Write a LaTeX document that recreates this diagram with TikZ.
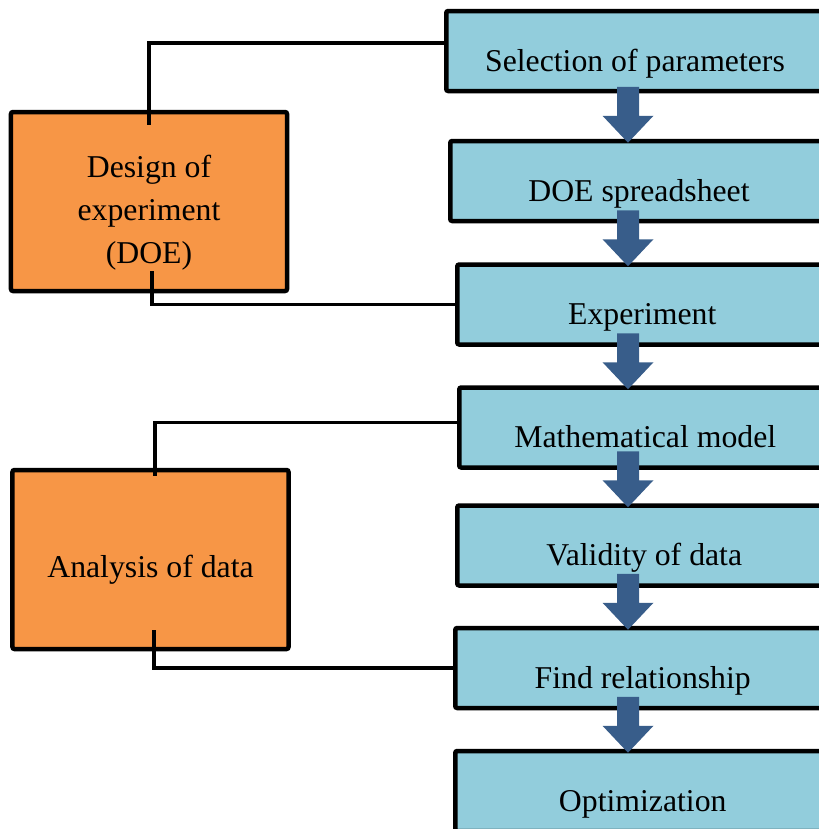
\documentclass[tikz,border=0pt]{standalone}
\usepackage{fontspec}
\setmainfont{Liberation Serif}
\usetikzlibrary{calc}
\definecolor{procblue}{HTML}{92CDDC}
\definecolor{mainorange}{HTML}{F79646}
\definecolor{flowblue}{HTML}{385D8A}

\begin{document}
\begin{tikzpicture}[x=0.4pt,y=-0.4pt]
\tikzstyle{procbox}=[rectangle,draw=black,fill=procblue,line width=1.8pt,rounded corners=0.8pt,anchor=west,minimum width=150pt,minimum height=32pt,text height=19pt,text depth=2.8pt,font=\fontsize{12.7}{17.2}\selectfont]
\tikzstyle{mainbox}=[rectangle,draw=black,fill=mainorange,line width=1.8pt,rounded corners=0.8pt,minimum width=110.4pt,minimum height=71.6pt,align=center,font=\fontsize{12.7}{17.2}\selectfont]
\tikzstyle{link}=[draw=black,line width=1.5pt]
\tikzstyle{flow}=[fill=flowblue]
\useasboundingbox (0,0) rectangle (819,829);
\clip (0,0) rectangle (819,829);
% process chain on the right
\node [procbox,minimum width=151pt] (sel) at (444,51) {Selection of parameters};
\node [procbox,minimum width=151pt] (spr) at (448,181) {DOE spreadsheet};
\node [procbox,minimum width=148pt] (exp) at (455,304.5) {Experiment};
\node [procbox,minimum width=148.8pt] (model) at (457,427.5) {Mathematical model};
\node [procbox,minimum width=149.6pt] (valid) at (455,545.5) {Validity of data};
\node [procbox] (rel) at (453,668) {Find relationship};
\node [procbox] (opt) at (453,791) {Optimization};
% the two stages on the left
\node [mainbox] (doe) at (149,201.5) {\rule{0pt}{18pt}Design of\\experiment\\(DOE)};
\node [mainbox,text height=17.5pt,text depth=2.8pt] (ana) at (150.5,559.5) {Analysis of data};
% brackets
\draw [link] ([yshift=-6pt]doe.north) |- ([yshift=3.2pt]sel.west);
\draw [link] ([xshift=1.2pt,yshift=8.8pt]doe.south) |- (exp.west);
\draw [link] ([xshift=1.8pt,yshift=-3.2pt]ana.north) |- ([yshift=2pt]model.west);
\draw [link] ([xshift=1.4pt,yshift=8.4pt]ana.south) |- (rel.west);
% block arrows
\coordinate (ax) at (628,0);
\foreach \b in {spr,exp,model,valid,rel,opt}
  \fill [flow] ($(ax |- \b.north)+(0,4)$) -- ++(-25.5,-27) -- ++(14.5,0) -- ++(0,-29) -- ++(22,0) -- ++(0,29) -- ++(14.5,0) -- cycle;
\end{tikzpicture}
\end{document}
